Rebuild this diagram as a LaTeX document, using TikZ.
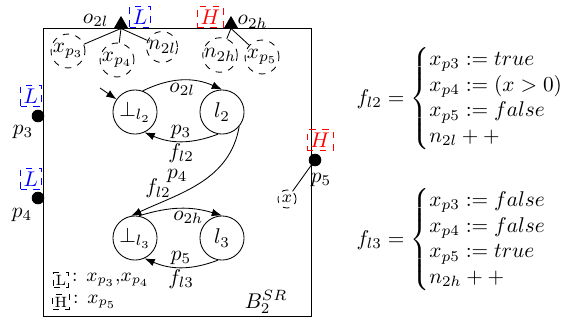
\documentclass[tikz,border=0pt]{standalone}
\usepackage{amsmath,amssymb}
\usepackage{tikz}
\usetikzlibrary{arrows.meta,positioning,calc,shapes.geometric}

\begin{document}
\begin{tikzpicture}[x=0.0165cm, y=-0.0165cm, >=Latex]
\tikzstyle{state}=[draw, circle, minimum size=20.7pt, inner sep=0pt]
\tikzstyle{var}=[draw, dashed, circle, minimum size=14.5pt, inner sep=0pt]
\tikzstyle{port}=[draw, fill, circle, minimum size=5.5pt, inner sep=0pt]
\tikzstyle{tri}=[regular polygon, regular polygon sides=3, fill, minimum size=7.6pt, inner sep=0pt]
\tikzstyle{lev}=[draw, dashed, inner sep=1.5pt]
\tikzstyle{lbl}=[inner sep=1pt]
\useasboundingbox (0,0) rectangle (564,320);
% block
\draw (43,28) rectangle (311,316);
\node at (266,302) {$B_2^{SR}$};
% output ports on top
\node[tri] (o2l) at (121,24) {};
\node[tri] (o2h) at (231,24) {};
\node[left=0pt of o2l, yshift=1.7pt] (lo2l) {$o_{2l}$};
\node[right=-2.8pt of o2h, yshift=1pt] (lo2h) {$o_{2h}$};
\node[lev, blue, right=1.5pt of o2l, yshift=3.4pt] (levl) {$L$};
\node[lev, red, left=1pt of o2h, yshift=3.4pt] (levh) {$H$};
\node[var] (xp3) at (68,51) {$x_{p_3}$};
\node[var] (xp4) at (117,60) {$x_{p_4}$};
\node[var] (n2l) at (162,47) {$n_{2l}$};
\node[var] (n2h) at (220,55) {$n_{2h}$};
\node[var] (xp5) at (262,57) {$x_{p_5}$};
\draw (o2l.south) -- (xp3);
\draw (o2l.south) -- (xp4);
\draw (o2l.south) -- (n2l);
\draw (o2h.south) -- (n2h);
\draw (o2h.south) -- (xp5);
% input ports
\node[lev, blue] (lev3) at (31,96) {$L$};
\node[port] (p3) at (38,116) {};
\node (lp3) at (23,132) {$p_3$};
\node[lev, blue] (lev4) at (31,179) {$L$};
\node[port] (p4) at (38,198) {};
\node (lp4) at (22,215) {$p_4$};
\node[lev, red] (lev5) at (320,140) {$H$};
\node[port] (p5) at (315,160) {};
\node (lp5) at (321,180) {$p_5$};
\node[var, minimum size=8.5pt, font=\footnotesize] (x) at (287,199) {$x$};
\draw (p5) -- (x);
% automaton
\node[state] (bl2) at (135,112) {$\bot_{l_2}$};
\node[state] (l2) at (222,112) {$l_2$};
\node[state] (bl3) at (135,238) {$\bot_{l_3}$};
\node[state] (l3) at (222,238) {$l_3$};
\coordinate (init) at (100,88);
\draw[->] (init) -- (bl2);
\draw[->] (bl2.70) to[bend left=25] node[lbl, below]{$o_{2l}$} (l2.north);
\draw[->] (l2.-100) to[bend left=22] node[lbl, above]{$p_3$} node[lbl, below]{$f_{l2}$} (bl2.-65);
\draw[->] (l2.-40) to[out=-100, in=25] node[lbl, pos=0.42, left=9pt]{$p_4$} node[lbl, pos=0.58, left=8pt]{$f_{l2}$} (bl3.100);
\draw[->] (bl3.80) to[bend left=17] node[lbl, below, pos=0.6]{$o_{2h}$} (l3.north);
\draw[->] (l3.-100) to[bend left=22] node[lbl, above]{$p_5$} node[lbl, below]{$f_{l3}$} (bl3.-65);
% legend
\node[lev, font=\scriptsize, inner sep=1pt] (keyl) at (61,280) {L};
\node[right=-2pt of keyl, font=\small] {: $x_{p_3}$,$x_{p_4}$};
\node[lev, font=\scriptsize, inner sep=1pt] (keyh) at (61,302) {H};
\node[right=-2pt of keyh, font=\small] {: $x_{p_5}$};
% update functions
\node[anchor=west] (fl2) at (349,99) {$f_{l2} = \left\{\begin{array}{@{}l@{}} x_{p3} := true\\ x_{p4} := (x > 0)\\ x_{p5} := false\\ n_{2l}++ \end{array}\right.$};
\node[anchor=west] (fl3) at (349,240) {$f_{l3} = \left\{\begin{array}{@{}l@{}} x_{p3} := false\\ x_{p4} := false\\ x_{p5} := true\\ n_{2h}++ \end{array}\right.$};
\end{tikzpicture}
\end{document}
